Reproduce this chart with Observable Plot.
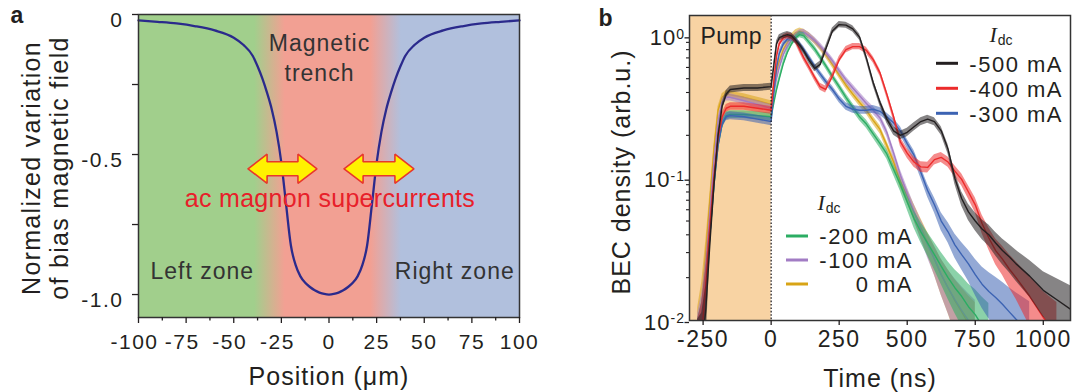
<!DOCTYPE html>
<html><head><meta charset="utf-8">
<script src="https://cdn.jsdelivr.net/npm/d3@7"></script>
<script src="https://cdn.jsdelivr.net/npm/@observablehq/plot@0.6"></script>
<style>
html,body{margin:0;padding:0;background:#fff;}
#wrap{position:relative;width:1073px;height:392px;overflow:hidden;background:#fff;}
#wrap svg{position:absolute;top:0;overflow:visible;}
</style></head><body><div id="wrap"></div>
<script>
// ---------- Panel a data ----------
const positions = [-100,-90,-80,-70,-60,-50,-45,-40,-37.5,-35,-32.5,-30,-27.5,-25,-22.5,-20,-17.5,-15,-12.5,-10,-7.5,-5,-2.5,0,2.5,5,7.5,10,12.5,15,17.5,20,22.5,25,27.5,30,32.5,35,37.5,40,45,50,60,70,80,90,100];
const fieldValues = [-0.021,-0.026,-0.032,-0.042,-0.057,-0.083,-0.108,-0.148,-0.185,-0.228,-0.28,-0.34,-0.42,-0.53,-0.68,-0.825,-0.895,-0.935,-0.958,-0.973,-0.985,-0.993,-0.998,-1.0,-0.998,-0.993,-0.985,-0.973,-0.958,-0.935,-0.895,-0.825,-0.68,-0.53,-0.42,-0.34,-0.28,-0.228,-0.185,-0.148,-0.108,-0.083,-0.057,-0.042,-0.032,-0.026,-0.021];
const zoneStops = [-100,-39,-23,22,38,100];
const zoneColors = ["#a1cf8c","#a1cf8c","#f2a093","#f2a093","#b1c0dd","#b1c0dd"];
const arrowStarts = [-42.5, 7.9];
const arrowEnds = [-6.3, 44.6];
const arrowLevel = -0.551;
const xTicksA = [-100,-75,-50,-25,0,25,50,75,100];
const xMinorA = [-87.5,-62.5,-37.5,-12.5,12.5,37.5,62.5,87.5];
const yTicksA = [0,-0.5,-1.0];
const yMinorA = [-0.25,-0.75];

// ---------- Panel b data ----------
const times = [-270,-255,-240,-225,-210,-195,-180,-165,-150,-100,-50,0,10,20,30,45,60,75,90,105,120,140,160,180,200,225,250,275,300,325,350,375,400,425,450,475,500,525,550,575,600,625,650,675,700,725,750,775,800,825,850,875,900,950,1000,1050,1100];
const bec500 = [0.005,0.006,0.012,0.035,0.09,0.2,0.32,0.39,0.42,0.43,0.43,0.44,0.62,0.88,0.97,1.0,1.02,1.0,0.93,0.86,0.78,0.67,0.59,0.63,0.8,1.08,1.2,1.19,1.12,0.98,0.7,0.47,0.34,0.26,0.215,0.2,0.21,0.23,0.25,0.26,0.25,0.215,0.16,0.1,0.072,0.058,0.05,0.044,0.04,0.035,0.031,0.028,0.025,0.0205,0.0163,0.014,0.012];
const bec400 = [0.005,0.008,0.018,0.045,0.1,0.19,0.27,0.31,0.32,0.32,0.31,0.30,0.48,0.72,0.88,0.97,1.0,0.99,0.92,0.8,0.7,0.6,0.51,0.44,0.42,0.52,0.68,0.8,0.84,0.84,0.79,0.68,0.55,0.39,0.27,0.18,0.15,0.13,0.12,0.119,0.135,0.14,0.13,0.112,0.098,0.08,0.065,0.048,0.038,0.031,0.027,0.023,0.02,0.0148,0.0105,0.008,null];
const bec300 = [0.005,0.008,0.017,0.04,0.09,0.17,0.24,0.27,0.275,0.27,0.26,0.25,0.4,0.6,0.75,0.88,0.95,0.97,0.93,0.87,0.8,0.7,0.61,0.54,0.48,0.42,0.36,0.32,0.305,0.3,0.3,0.305,0.295,0.27,0.245,0.215,0.175,0.145,0.11,0.082,0.065,0.05,0.042,0.034,0.029,0.025,0.021,0.018,0.016,0.0145,0.013,0.0115,0.0102,0.0082,null,null,null];
const bec200 = [0.005,0.008,0.017,0.04,0.09,0.17,0.24,0.275,0.28,0.28,0.275,0.27,0.34,0.42,0.5,0.64,0.77,0.88,0.97,1.02,1.0,0.9,0.81,0.71,0.62,0.52,0.44,0.37,0.315,0.27,0.24,0.205,0.175,0.148,0.115,0.09,0.068,0.052,0.042,0.035,0.029,0.024,0.02,0.017,0.0148,0.0125,0.011,0.0092,0.0078,null,null,null,null,null,null,null,null];
const bec100 = [0.006,0.01,0.022,0.055,0.13,0.25,0.34,0.37,0.37,0.35,0.33,0.31,0.4,0.5,0.6,0.74,0.85,0.94,1.0,1.05,1.06,1.0,0.93,0.85,0.77,0.67,0.57,0.49,0.43,0.38,0.335,0.3,0.265,0.21,0.15,0.105,0.078,0.058,0.044,0.034,0.027,0.021,0.017,0.014,0.0118,0.01,0.0085,null,null,null,null,null,null,null,null,null,null];
const bec0 = [0.007,0.013,0.03,0.07,0.16,0.3,0.37,0.39,0.385,0.37,0.35,0.33,0.45,0.56,0.66,0.8,0.9,0.98,1.05,1.08,1.06,1.0,0.92,0.83,0.74,0.63,0.53,0.45,0.39,0.34,0.3,0.255,0.22,0.17,0.13,0.095,0.075,0.058,0.045,0.035,0.027,0.021,0.017,0.0138,0.0115,0.0095,0.008,null,null,null,null,null,null,null,null,null,null];
const seriesLabels = ["-500 mA","-400 mA","-300 mA","-200 mA","-100 mA","0 mA"];
const seriesColors = ["#231f20","#ec2b2b","#3c63b3","#2bad63","#a27cc4","#d8a416"];
const becSeries = [bec500, bec400, bec300, bec200, bec100, bec0];
const pumpWindow = [-300, 0];
const xTicksB = [-250,0,250,500,750,1000];
const yTicksB = [0.01,0.1,1];
const yMinorB = [0.02,0.03,0.04,0.05,0.06,0.07,0.08,0.09,0.2,0.3,0.4,0.5,0.6,0.7,0.8,0.9];

const INK = "#231f20";
const FONT = "'Liberation Sans', Arial, Helvetica, sans-serif";

// ---------- Panel a ----------
const fieldRows = positions.map((p, i) => ({p, v: fieldValues[i]}));
const arrowPts = arrowStarts.flatMap((x1, i) => {
  const x2 = arrowEnds[i], yc = arrowLevel, hl = 10, hh = 0.052, sh = 0.025;
  return [[x1,yc],[x1+hl,yc+hh],[x1+hl,yc+sh],[x2-hl,yc+sh],[x2-hl,yc+hh],[x2,yc],
          [x2-hl,yc-hh],[x2-hl,yc-sh],[x1+hl,yc-sh],[x1+hl,yc-hh],[x1,yc]]
         .map(([x, y]) => ({x, y, id: i}));
});

const plotA = Plot.plot({
  width: 560, height: 392,
  marginLeft: 138, marginRight: 41, marginTop: 14, marginBottom: 75,
  x: {domain: [-100, 100]},
  y: {domain: [-1.082, 0]},
  style: {fontFamily: FONT, color: INK, background: "transparent", letterSpacing: "1.5px", overflow: "visible"},
  marks: [
    Plot.rect([zoneStops], {x1: d => d[0], x2: d => d[d.length - 1], fill: "url(#zones)"}),
    Plot.line(fieldRows, {x: "p", y: "v", stroke: "#2b2a8c", strokeWidth: 2.3, curve: "monotone-x"}),
    Plot.line(arrowPts, {x: "x", y: "y", z: "id", fill: "#fff200", stroke: "#e8372c", strokeWidth: 1.6, strokeLinejoin: "miter"}),
    Plot.text(["Magnetic\ntrench"], {x: -5, y: -0.236, lineAnchor: "bottom", lineHeight: 1.3, fontSize: 23, fill: "#333"}),
    Plot.text(["ac magnon supercurrents"], {x: 0.5, y: -0.689, lineAnchor: "bottom", fontSize: 25, fill: "#e8202a"}),
    Plot.text(["Left zone"], {x: -93.7, y: -0.943, lineAnchor: "bottom", textAnchor: "start", fontSize: 23, fill: "#333"}),
    Plot.text(["Right zone"], {x: 97.5, y: -0.943, lineAnchor: "bottom", textAnchor: "end", fontSize: 23, fill: "#333"}),
    Plot.frame({stroke: "#333", strokeWidth: 1.5}),
    Plot.axisX({ticks: xTicksA, tickSize: 6, tickFormat: () => "", label: null, color: INK, strokeWidth: 1.3}),
    Plot.axisX({ticks: xMinorA, tickSize: 3.5, tickFormat: () => "", label: null, color: INK, strokeWidth: 1.3}),
    Plot.axisX({ticks: xTicksA.filter(d => d >= 0), tickSize: 0, tickPadding: 17, tickFormat: d => String(d), label: null, fontSize: 21, color: INK}),
    Plot.axisX({ticks: xTicksA.filter(d => d < 0), tickSize: 0, tickPadding: 17, tickFormat: d => String(d), label: null, fontSize: 21, color: INK, dx: -4}),
    Plot.axisY({ticks: yTicksA.concat(yMinorA), tickSize: 6, tickFormat: () => "", label: null, color: INK, strokeWidth: 1.3}),
    Plot.axisY({ticks: yTicksA, tickSize: 0, tickPadding: 15, tickFormat: d => d === 0 ? "0" : d.toFixed(1), label: null, fontSize: 21, color: INK, dy: 6}),
    Plot.text(["Position (μm)"], {frameAnchor: "bottom", dy: 59, lineAnchor: "middle", fontSize: 25, fill: INK}),
    Plot.text(["Normalized variation"], {frameAnchor: "left", textAnchor: "middle", dx: -107, dy: 2, rotate: -90, lineAnchor: "middle", fontSize: 25, fill: INK}),
    Plot.text(["of bias magnetic field"], {frameAnchor: "left", textAnchor: "middle", dx: -79, dy: 2, rotate: -90, lineAnchor: "middle", fontSize: 25, fill: INK}),
    Plot.text(["a"], {frameAnchor: "top-left", dx: -128, dy: 8, lineAnchor: "bottom", textAnchor: "start", fontSize: 23, fontWeight: "bold", fill: INK})
  ]
});
{
  const defs = d3.select(plotA).insert("defs", ":first-child");
  const g = defs.append("linearGradient").attr("id", "zones").attr("x1", 0).attr("x2", 1).attr("y1", 0).attr("y2", 0);
  const lo = zoneStops[0], hi = zoneStops[zoneStops.length - 1];
  zoneStops.forEach((s, i) => g.append("stop").attr("offset", (s - lo) / (hi - lo)).attr("stop-color", zoneColors[i]));
}
plotA.style.left = "0px";

// ---------- Panel b ----------
const bandMarks = [];
for (let k = becSeries.length - 1; k >= 0; k--) {
  const rows = [];
  becSeries[k].forEach((v, i) => {
    if (v == null) return;
    const n = 0.045 * v + 0.005;
    rows.push({t: times[i], v, lo: Math.max(v - n, 0.003), hi: v + n});
  });
  bandMarks.push(Plot.areaY(rows, {x: "t", y1: "lo", y2: "hi", fill: seriesColors[k], fillOpacity: 0.55, clip: true}));
  bandMarks.push(Plot.line(rows, {x: "t", y: "v", stroke: seriesColors[k], strokeWidth: 1.4, clip: true}));
}

const plotB = Plot.plot({
  width: 513, height: 392,
  marginLeft: 129, marginRight: 3, marginTop: 15, marginBottom: 72,
  x: {domain: [-300, 1100]},
  y: {type: "log", domain: [0.01, 1.39]},
  style: {fontFamily: FONT, color: INK, background: "transparent", letterSpacing: "1.5px", overflow: "visible"},
  marks: [
    Plot.rect([pumpWindow], {x1: d => d[0], x2: d => d[1], fill: "#f8d3a3"}),
    ...bandMarks,
    Plot.ruleX([0], {stroke: INK, strokeWidth: 1.3, strokeDasharray: "1.6,1.8"}),
    Plot.text(["Pump"], {x: -147, y: 0.875, lineAnchor: "bottom", fontSize: 23, fill: INK}),
    Plot.frame({stroke: "#333", strokeWidth: 1.5}),
    Plot.axisX({ticks: xTicksB, tickSize: 5, tickPadding: 5, tickFormat: d => String(d), label: null, fontSize: 23, color: INK, strokeWidth: 1.3}),
    Plot.axisY({ticks: yTicksB, tickSize: 4.5, tickPadding: 0, tickFormat: d => "10^" + Math.round(Math.log10(d)), label: null, fontSize: 22, color: INK, strokeWidth: 1.3, dy: 2}),
    Plot.axisY({ticks: yMinorB, tickSize: 3, tickFormat: () => "", label: null, color: INK, strokeWidth: 1.1}),
    Plot.text(["Time (ns)"], {frameAnchor: "bottom", dy: 58, lineAnchor: "middle", fontSize: 25, fill: INK}),
    Plot.text(["BEC density (arb.u.)"], {frameAnchor: "left", textAnchor: "middle", dx: -68, dy: 4, rotate: -90, lineAnchor: "middle", fontSize: 25, fill: INK}),
    Plot.text(["b"], {frameAnchor: "top-left", dx: -91, dy: 10, lineAnchor: "bottom", textAnchor: "start", fontSize: 23, fontWeight: "bold", fill: INK})
  ]
});
plotB.style.left = "560px";

// superscript exponents on the log axis
d3.select(plotB).selectAll("text").each(function () {
  const m = /^10\^(-?\d+)$/.exec(this.textContent);
  if (m) {
    const el = d3.select(this);
    el.text("10").style("letter-spacing", "1px");
    el.append("tspan").attr("dy", "-0.45em").attr("font-size", "14px").text(m[1]);
  }
});

// legends (inside panel b)
function legend(svg, rows, titleX, titleBase, lineX1, lineX2, textEnd) {
  const g = d3.select(svg).append("g").attr("font-family", FONT).attr("fill", INK);
  const t = g.append("text").attr("x", titleX).attr("y", titleBase).style("letter-spacing", "0px");
  t.append("tspan").attr("font-family", "'Liberation Serif', 'Times New Roman', serif").attr("font-style", "italic").attr("font-size", 22).text("I");
  t.append("tspan").attr("font-size", 14).attr("dx", 1).attr("dy", 3).text("dc");
  rows.forEach(({k, y}) => {
    g.append("line").attr("x1", lineX1).attr("x2", lineX2).attr("y1", y).attr("y2", y)
      .attr("stroke", seriesColors[k]).attr("stroke-width", 3);
    g.append("text").attr("x", textEnd).attr("y", y + 8.4).attr("text-anchor", "end")
      .attr("font-size", 22).style("letter-spacing", "1.5px").text(seriesLabels[k]);
  });
}
legend(plotB, [{k: 0, y: 63.3}, {k: 1, y: 88.3}, {k: 2, y: 113.3}], 441, 42, 376, 398, 503);
legend(plotB, [{k: 3, y: 236}, {k: 4, y: 260}, {k: 5, y: 284}], 269, 210, 226, 248, 353);

// letter-spacing tweaks
[plotA, plotB].forEach(svg => d3.select(svg).selectAll("text").each(function () {
  const s = this.textContent;
  if (s === "ac magnon supercurrents" || s === "Pump") this.style.letterSpacing = "0.3px";
  if (s === "Position (μm)" || s === "Time (ns)" || s === "BEC density (arb.u.)") this.style.letterSpacing = "1px";
  if (s === "Normalized variation" || s === "of bias magnetic field") this.style.letterSpacing = "1.3px";
  if (s === "a" || s === "b") this.style.letterSpacing = "0px";
  if (s === "Magnetictrench" || s === "Left zone" || s === "Right zone") this.style.letterSpacing = "1px";
}));

document.getElementById("wrap").append(plotA, plotB);
</script></body></html>
